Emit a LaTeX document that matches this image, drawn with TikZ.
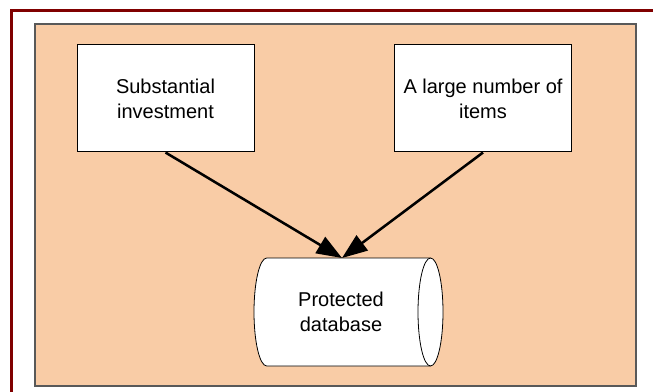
\documentclass[tikz,border=0pt]{standalone}
\usepackage{fontspec}
\setmainfont{Liberation Sans}
\usetikzlibrary{arrows.meta,positioning}
\definecolor{frame}{RGB}{128,0,0}
\definecolor{peach}{RGB}{249,204,166}
\begin{document}
\begin{tikzpicture}[x=0.75pt,y=-0.75pt,
    box/.style={draw=black,fill=white,line width=0.75pt,minimum width=132.75pt,minimum height=80.25pt,inner sep=0pt,align=center,font=\fontsize{15}{18.75}\selectfont},
    label/.style={align=center,inner sep=0pt,font=\fontsize{15}{18.75}\selectfont},
    link/.style={draw=black,line width=1.9pt,-{Triangle[length=19pt,width=14pt]}}]
    \useasboundingbox (0,0) rectangle (653,392);
    \draw[draw=frame,line width=2.3pt] (11.5,395) -- (11.5,10.8) -- (656,10.8);
    \draw[fill=peach,draw=gray!70!black,line width=1pt] (35,24) rectangle (636,386);
    \node[box] (invest) at (165.5,98.5) {Substantial\\investment};
    \node[box] (items) at (483,98.5) {A large number of\\items};
    \draw[fill=white,draw=black,line width=0.6pt] (266.7,258) -- (430.5,258)
        arc[start angle=-90,end angle=90,x radius=12.5,y radius=54] -- (266.7,366)
        arc[start angle=90,end angle=270,x radius=12.7,y radius=54] -- cycle;
    \draw[draw=black,line width=0.6pt] (430.5,258) arc[start angle=270,end angle=90,x radius=12.5,y radius=54];
    \node[label] (db) at (341,312) {Protected\\database};
    \coordinate (dbtop) at (342,258);
    \draw[link] (invest.south) -- (dbtop);
    \draw[link] (items.south) -- (dbtop);
\end{tikzpicture}
\end{document}
